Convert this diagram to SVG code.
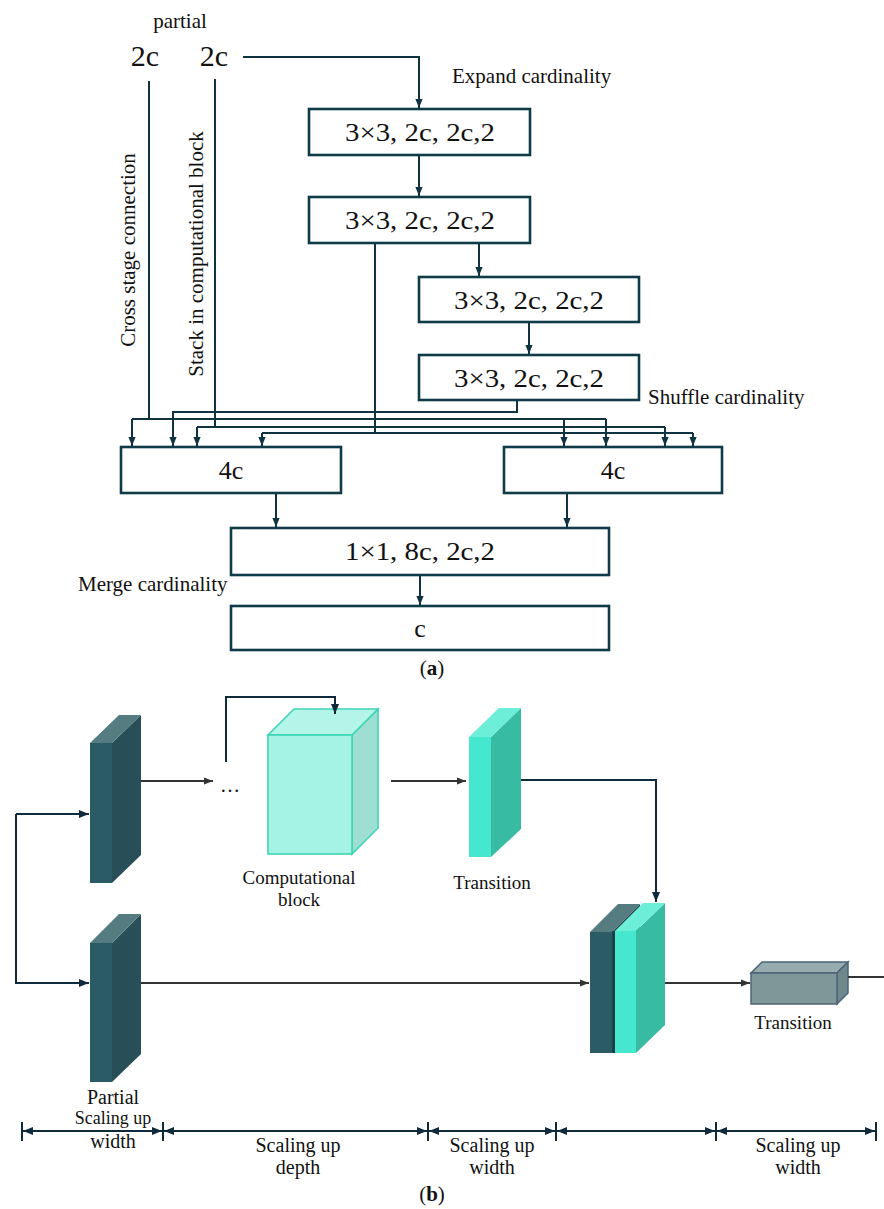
<svg xmlns="http://www.w3.org/2000/svg" width="884" height="1209" viewBox="0 0 884 1209" font-family="'Liberation Serif', 'DejaVu Serif', serif">
<style>
text{font-family:'Liberation Serif','DejaVu Serif',serif;fill:#111}
.box{fill:#fff;stroke:#0f3a48;stroke-width:2.6}
.ca{fill:none;stroke:#0f3340;stroke-width:2}
.cb{fill:none;stroke:#333;stroke-width:1.8}
.cn{fill:none;stroke:#0f2a3a;stroke-width:2}
.bt{font-size:26px;text-anchor:middle}
.lb{font-size:21px}
.bl{font-size:19px;text-anchor:middle}
.sl{font-size:20px;text-anchor:middle}
.dk1{fill:#2b5b64}.dk2{fill:#284f57}.dk3{fill:#547c81}
.tq1{fill:#45e8cf}.tq2{fill:#37bba3}.tq3{fill:#6ceed8}
</style>
<defs>
<marker id="ah" viewBox="0 0 10 10" refX="10" refY="5" markerWidth="9" markerHeight="9" markerUnits="userSpaceOnUse" orient="auto"><path d="M0,1 L10,5 L0,9 z" fill="#0f3340"/></marker>
<marker id="ahb" viewBox="0 0 10 10" refX="10" refY="5" markerWidth="9" markerHeight="9" markerUnits="userSpaceOnUse" orient="auto"><path d="M0,1 L10,5 L0,9 z" fill="#333"/></marker>
<marker id="ahd" viewBox="0 0 10 10" refX="10" refY="5" markerWidth="10" markerHeight="10" markerUnits="userSpaceOnUse" orient="auto-start-reverse"><path d="M0,1 L10,5 L0,9 z" fill="#0f2a3a"/></marker>
</defs>

<!-- ===== (a) ===== -->
<g id="labels-a">
<text class="lb" x="180" y="28" text-anchor="middle">partial</text>
<text x="145" y="66" font-size="30" text-anchor="middle">2c</text>
<text x="214" y="66" font-size="30" text-anchor="middle">2c</text>
<text class="lb" x="452" y="83">Expand cardinality</text>
<text class="lb" x="648" y="404">Shuffle cardinality</text>
<text class="lb" x="78" y="591">Merge cardinality</text>
<text class="lb" transform="translate(135,250) rotate(-90)" text-anchor="middle">Cross stage connection</text>
<text class="lb" transform="translate(203,254) rotate(-90)" text-anchor="middle">Stack in computational block</text>
<text x="432" y="675" font-size="21" text-anchor="middle">(<tspan font-weight="bold">a</tspan>)</text>
</g>

<g id="connectors-a">
<path class="ca" d="M243,57 H419 V108" marker-end="url(#ah)"/>
<path class="ca" d="M419,155 V196" marker-end="url(#ah)"/>
<path class="ca" d="M479,243 V276" marker-end="url(#ah)"/>
<path class="ca" d="M529,322 V354" marker-end="url(#ah)"/>
<path class="ca" d="M517,400 V412 H173 V446" marker-end="url(#ah)"/>
<path class="ca" d="M149,81 V419"/>
<path class="ca" d="M132,419 H606"/>
<path class="ca" d="M132,419 V446" marker-end="url(#ah)"/>
<path class="ca" d="M564,419 V446" marker-end="url(#ah)"/>
<path class="ca" d="M606,419 V446" marker-end="url(#ah)"/>
<path class="ca" d="M215,79 V427"/>
<path class="ca" d="M197,427 H665"/>
<path class="ca" d="M197,427 V446" marker-end="url(#ah)"/>
<path class="ca" d="M665,427 V446" marker-end="url(#ah)"/>
<path class="ca" d="M375,243 V433"/>
<path class="ca" d="M262,433 H693"/>
<path class="ca" d="M262,433 V446" marker-end="url(#ah)"/>
<path class="ca" d="M693,433 V446" marker-end="url(#ah)"/>
<path class="ca" d="M276,493 V527" marker-end="url(#ah)"/>
<path class="ca" d="M567,493 V527" marker-end="url(#ah)"/>
<path class="ca" d="M420,575 V605" marker-end="url(#ah)"/>
</g>

<g id="box1"><rect class="box" x="309" y="109" width="221" height="46"/><text class="bt" x="420" y="141" textLength="150" lengthAdjust="spacingAndGlyphs">3×3, 2c, 2c,2</text></g>
<g id="box2"><rect class="box" x="309" y="197" width="221" height="46"/><text class="bt" x="420" y="229" textLength="150" lengthAdjust="spacingAndGlyphs">3×3, 2c, 2c,2</text></g>
<g id="box3"><rect class="box" x="419" y="277" width="220" height="45"/><text class="bt" x="529" y="309" textLength="150" lengthAdjust="spacingAndGlyphs">3×3, 2c, 2c,2</text></g>
<g id="box4"><rect class="box" x="419" y="355" width="220" height="45"/><text class="bt" x="529" y="387" textLength="150" lengthAdjust="spacingAndGlyphs">3×3, 2c, 2c,2</text></g>
<g id="box4c-left"><rect class="box" x="121" y="447" width="220" height="46"/><text class="bt" x="231" y="479">4c</text></g>
<g id="box4c-right"><rect class="box" x="504" y="447" width="218" height="46"/><text class="bt" x="613" y="479">4c</text></g>
<g id="box-merge"><rect class="box" x="231" y="528" width="378" height="47"/><text class="bt" x="420" y="560" textLength="150" lengthAdjust="spacingAndGlyphs">1×1, 8c, 2c,2</text></g>
<g id="box-c"><rect class="box" x="231" y="606" width="378" height="44"/><text class="bt" x="420" y="637">c</text></g>

<!-- ===== (b) ===== -->
<g id="block-partial-top">
<rect class="dk1" x="90" y="743" width="22" height="140"/>
<polygon class="dk2" points="112,743 141,715 141,855 112,883"/>
<polygon class="dk3" points="90,743 119,715 141,715 112,743"/>
</g>
<g id="block-partial-bottom">
<rect class="dk1" x="90" y="943" width="22" height="139"/>
<polygon class="dk2" points="112,943 141,914 141,1054 112,1082"/>
<polygon class="dk3" points="90,943 119,914 141,914 112,943"/>
</g>
<g id="dots"><text x="230" y="792" font-size="20" text-anchor="middle">…</text></g>
<g id="computational-block">
<polygon points="352,735 378,709 378,828 352,854" fill="#9fded2" stroke="#3dd6b5" stroke-width="1.6"/>
<polygon points="268,735 294,709 378,709 352,735" fill="#b3f5e9" stroke="#3dd6b5" stroke-width="1.6"/>
<rect x="268" y="735" width="84" height="119" fill="#a4f3e4" stroke="#3dd6b5" stroke-width="1.6"/>
<text class="bl" x="299" y="884">Computational</text>
<text class="bl" x="299" y="906">block</text>
</g>
<g id="transition-top">
<rect class="tq1" x="469" y="737" width="22" height="120"/>
<polygon class="tq2" points="491,737 521,708 521,829 491,857"/>
<polygon class="tq3" points="469,737 499,708 521,708 491,737"/>
<text class="bl" x="492" y="889">Transition</text>
</g>
<g id="merged-block">
<polygon fill="#1f4047" points="612,932 640,904 640,1025 612,1053"/>
<rect class="dk1" x="590" y="932" width="22" height="121"/>
<polygon class="dk3" points="590,932 618,904 640,904 612,932"/>
<rect fill="#1f4047" x="612" y="931" width="3" height="122"/>
<rect class="tq1" x="615" y="931" width="21" height="122"/>
<polygon class="tq2" points="636,931 665,903 665,1025 636,1053"/>
<polygon class="tq3" points="615,931 643,903 665,903 636,931"/>
</g>
<g id="transition-bottom">
<polygon points="751,973 762,962 848,962 837,973" fill="#97acae" stroke="#4d6478" stroke-width="1.5"/>
<polygon points="837,973 848,962 848,993 837,1004" fill="#6f888c" stroke="#4d6478" stroke-width="1.5"/>
<rect x="751" y="973" width="86" height="31" fill="#7f9799" stroke="#4d6478" stroke-width="1.5"/>
<text class="bl" x="793" y="1029">Transition</text>
</g>

<g id="connectors-b">
<path class="cn" d="M16,814 H89" marker-end="url(#ahd)"/>
<path class="cn" d="M16,814 V983 H89" marker-end="url(#ahd)"/>
<path class="cb" d="M141,781 H213" marker-end="url(#ahb)"/>
<path class="cn" d="M226,762 V697 H335 V714" marker-end="url(#ahd)"/>
<path class="cb" d="M391,781 H466" marker-end="url(#ahb)"/>
<path class="cn" stroke="#111" d="M521,780 H656 V902" marker-end="url(#ahd)"/>
<path class="cb" d="M141,983 H589" marker-end="url(#ahb)"/>
<path class="cb" d="M665,983 H750" marker-end="url(#ahb)"/>
<path class="cb" d="M848,977 H884"/>
</g>

<g id="scale-bar">
<path class="cn" d="M23,1131 H162" marker-start="url(#ahd)" marker-end="url(#ahd)"/>
<path class="cn" d="M164,1131 H427" marker-start="url(#ahd)" marker-end="url(#ahd)"/>
<path class="cn" d="M429,1131 H555" marker-start="url(#ahd)" marker-end="url(#ahd)"/>
<path class="cn" d="M557,1131 H715" marker-start="url(#ahd)" marker-end="url(#ahd)"/>
<path class="cn" d="M717,1131 H875" marker-start="url(#ahd)" marker-end="url(#ahd)"/>
<path class="cn" stroke-width="1.5" d="M22,1122 V1141 M163,1122 V1141 M428,1122 V1141 M556,1122 V1141 M716,1122 V1141 M876,1122 V1141"/>
</g>
<g id="labels-b">
<text class="sl" x="113" y="1104" font-size="18">Partial</text>
<text class="sl" x="113" y="1124" style="font-size:18px">Scaling up</text>
<text class="sl" x="113" y="1148">width</text>
<text class="sl" x="298" y="1152">Scaling up</text>
<text class="sl" x="298" y="1174">depth</text>
<text class="sl" x="492" y="1152">Scaling up</text>
<text class="sl" x="492" y="1174">width</text>
<text class="sl" x="798" y="1152">Scaling up</text>
<text class="sl" x="798" y="1174">width</text>
<text x="432" y="1201" font-size="21" text-anchor="middle">(<tspan font-weight="bold">b</tspan>)</text>
</g>
</svg>
